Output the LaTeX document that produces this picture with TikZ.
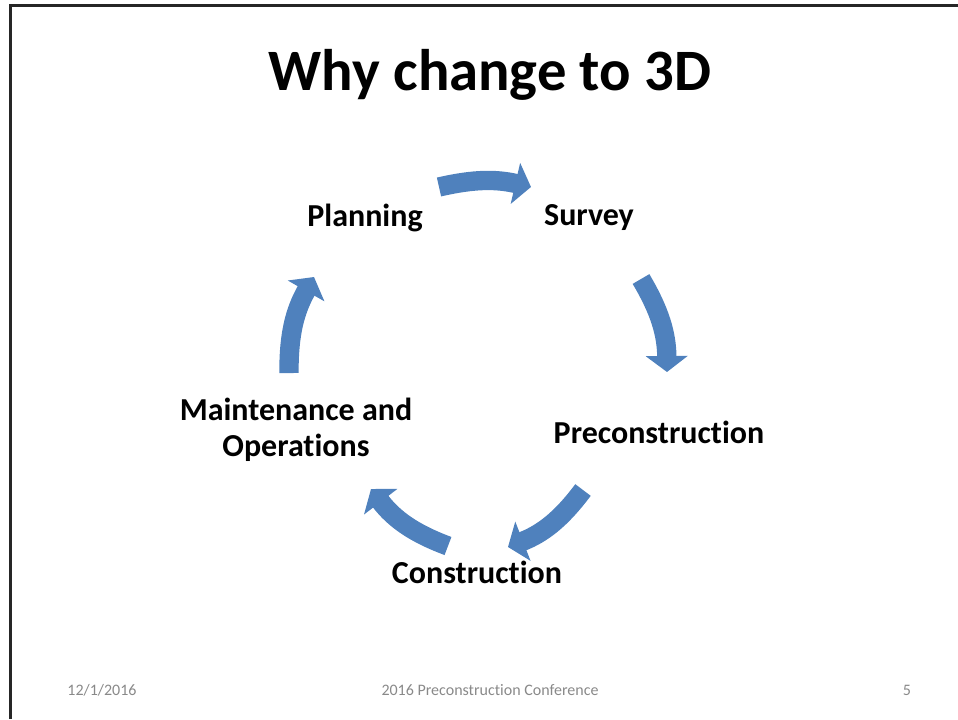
\documentclass[tikz,border=0pt]{standalone}
\usepackage{fontspec}
\setmainfont{Carlito}[Ligatures=CommonOff]
\usepackage{tikz}
\usetikzlibrary{arrows.meta}
\usetikzlibrary{positioning}
\definecolor{cycleblue}{RGB}{79,129,189}
\definecolor{footgray}{RGB}{137,137,137}
\tikzset{
  stage/.style={font=\fontsize{24}{27}\selectfont\bfseries, align=center},
  cycarrow/.style={draw=cycleblue, line width=14.5pt, -{Triangle[width=31pt,length=12pt]}, bend left=#1},
  foot/.style={font=\fontsize{12}{14}\selectfont, text=footgray},
}
\begin{document}
\begin{tikzpicture}[x=0.75pt,y=-0.75pt]
  \useasboundingbox (0,0) rectangle (958,719);
  \draw [line width=2.25pt, black!85] (10.5,719) -- (10.5,5.5) -- (958,5.5);

  \node [font=\fontsize{44}{53}\selectfont\bfseries] (title) at (490,75) {Why change to 3D};

  \node [stage] (plan) at (365,218) {Planning};
  \node [stage] (survey) at (589,218) {Survey};
  \node [stage] (precon) at (659,432) {Preconstruction};
  \node [stage] (constr) at (477,572) {Construction};
  \node [stage] (maint) at (296,430) {Maintenance and\\Operations};

  % arrows round the cycle
  \coordinate (a1s) at (439,187); \coordinate (a1e) at (531,187);
  \coordinate (a2s) at (641,279); \coordinate (a2e) at (667,372);
  \coordinate (a3s) at (583,490); \coordinate (a3e) at (508,547);
  \coordinate (a4s) at (448,546); \coordinate (a4e) at (371,489);
  \coordinate (a5s) at (289,373); \coordinate (a5e) at (314,277);
  \draw [cycarrow=13] (a1s) to (a1e);
  \draw [cycarrow=15] (a2s) to (a2e);
  \draw [cycarrow=16] (a3s) to (a3e);
  \draw [cycarrow=16] (a4s) to (a4e);
  \draw [cycarrow=15] (a5s) to (a5e);

  \node [foot] (date) at (102,690) {12/1/2016};
  \node [foot] (conf) at (490,690) {2016 Preconstruction Conference};
  \node [foot] (page) at (907,690) {5};
\end{tikzpicture}
\end{document}
